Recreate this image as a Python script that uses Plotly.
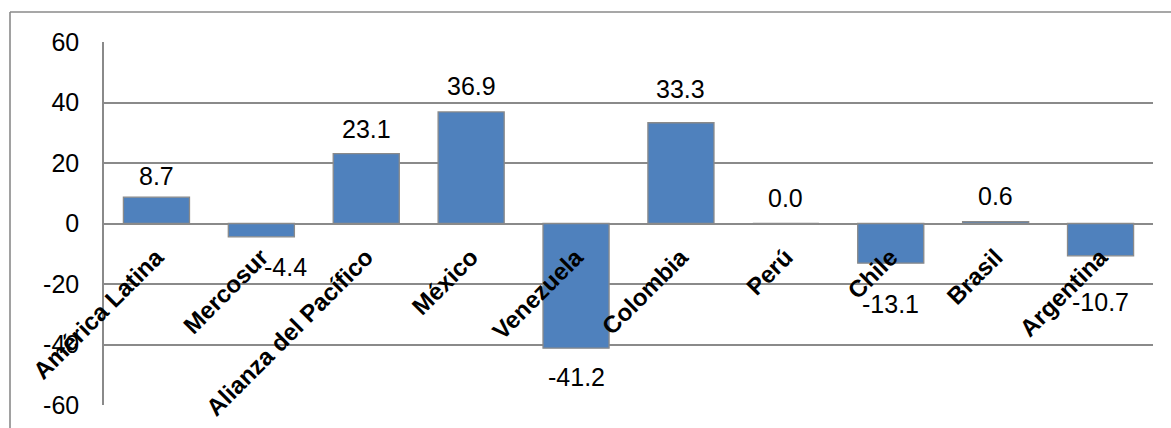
import plotly.graph_objects as go

categories = ["América Latina", "Mercosur", "Alianza del Pacífico", "México", "Venezuela",
              "Colombia", "Perú", "Chile", "Brasil", "Argentina"]
values = [8.7, -4.4, 23.1, 36.9, -41.2, 33.3, 0.0, -13.1, 0.6, -10.7]
value_labels = ["8.7", "-4.4", "23.1", "36.9", "-41.2", "33.3", "0.0", "-13.1", "0.6", "-10.7"]
y_ticks = [-60, -40, -20, 0, 20, 40, 60]

# label offsets (pixels) relative to bar end: style only
label_yshift = [21, -30, 25, 26, -29, 34, 26, -41, 26, -46]
label_xshift = [0, 24, 0, 0, 0, 0, 0, 0, 0, 0]

W, H = 1171, 428
L, R, T, B = 104, 18, 42, 23
pw, ph = W - L - R, H - T - B

def px(x):
    return (x - L) / pw

def py(y):
    return (H - B - y) / ph

GRID = "#8a8a8a"
FONT = "Liberation Sans, Arial, sans-serif"

fig = go.Figure()
fig.add_trace(go.Bar(
    x=categories, y=values,
    marker=dict(color="#4F81BD", line=dict(color="#8a8a8a", width=1.3)),
    hoverinfo="skip",
))

for c, v, t, ys, xs in zip(categories, values, value_labels, label_yshift, label_xshift):
    fig.add_annotation(x=c, y=v, text=t, showarrow=False, xanchor="center", yanchor="middle",
                       yshift=ys, xshift=xs, font=dict(size=25, color="#000000", family=FONT))

# outer chart border (top and left visible)
fig.add_shape(type="line", xref="paper", yref="paper", x0=px(10), x1=px(10), y0=py(H + 5), y1=py(12),
              line=dict(color="#8a8a8a", width=1.6), layer="below")
fig.add_shape(type="line", xref="paper", yref="paper", x0=px(10), x1=px(W + 5), y0=py(12), y1=py(12),
              line=dict(color="#8a8a8a", width=1.6), layer="below")

fig.update_layout(
    width=W, height=H,
    margin=dict(l=L, r=R, t=T, b=B, pad=0),
    paper_bgcolor="white", plot_bgcolor="white",
    bargap=0.37, showlegend=False,
    font=dict(family=FONT, color="#000000"),
    xaxis=dict(
        anchor="free", position=0.5, tickangle=-45, showgrid=False, showline=False,
        zeroline=False, ticks="", automargin=False, ticklabelstandoff=14,
        tickfont=dict(size=24, family=FONT, weight="bold", color="#000000"),
    ),
    yaxis=dict(
        range=[-60, 60], tickvals=y_ticks, ticktext=[str(v) for v in y_ticks],
        showgrid=True, gridcolor=GRID, gridwidth=1.5, zeroline=True, zerolinecolor=GRID,
        zerolinewidth=1.5, showline=True, linecolor=GRID, linewidth=1.5, ticks="",
        ticklabelstandoff=18, automargin=False,
        tickfont=dict(size=25, color="#000000", family=FONT),
    ),
)

fig.write_html("out.html")
